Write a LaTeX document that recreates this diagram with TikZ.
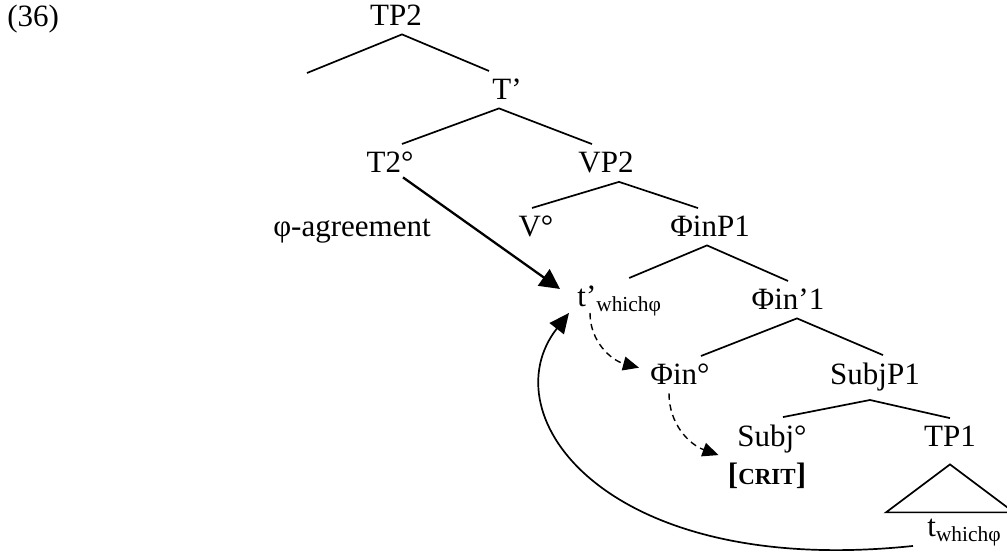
\documentclass[tikz,border=0pt]{standalone}
\usepackage{fontspec}
\setmainfont{Liberation Serif}
\usepackage{tikz}
\usetikzlibrary{arrows.meta}

\newcommand{\whsub}[1]{\raisebox{-2.5pt}{\fontsize{10.7}{12}\selectfont #1}}

\begin{document}
\begin{tikzpicture}[x=0.5pt, y=-0.5pt,
  lbl/.style={anchor=base, inner sep=4pt, font=\fontsize{15.5}{18}\selectfont},
  branch/.style={line width=0.85pt},
  agr/.style={line width=1.15pt, -{Triangle[length=10pt,width=10pt]}},
  feat/.style={line width=0.7pt, dash pattern=on 3.2pt off 2.3pt,
    -{Triangle[length=8pt,width=7pt]}},
  move/.style={line width=0.85pt, -{Triangle[length=10pt,width=9pt]}}]
\clip (0,0) rectangle (1007,555);

% labels of the tree
\node (ex) [lbl, anchor=base west] at (-1,27) {(36)};
\node (TP2) [lbl] at (396,26) {TP2};
\coordinate (TP2-spec) at (307,73);
\node (Tbar) [lbl] at (507,100) {T’};
\node (T2) [lbl] at (390,173) {T2°};
\node (VP2) [lbl] at (606,173) {VP2};
\node (V) [lbl] at (536,237) {V°};
\node (PhiP1) [lbl] at (710,237) {ΦinP1};
\node (agree) [lbl] at (352,237) {φ-agreement};
\node (tprime) [lbl, anchor=base west] at (569,307) {t’\whsub{whichφ}};
\node (Phibar) [lbl] at (788,310) {Φin’1};
\node (Phi0) [lbl] at (680,385) {Φin°};
\node (SubjP1) [lbl] at (875,385) {SubjP1};
\node (Subj) [lbl] at (772,447) {Subj°};
\node (TP1) [lbl] at (950,447) {TP1};
\node (crit) [lbl] at (767,485) {\textbf{[{\fontsize{11.5}{13}\selectfont CRIT}]}};
\node (twh) [lbl, anchor=base west] at (919,537) {t\whsub{whichφ}};

% branches
\draw[branch] (TP2-spec) -- ([xshift=3pt]TP2.south) -- ([xshift=-9pt]Tbar.north);
\draw[branch] ([xshift=6pt]T2.north) -- ([xshift=-4pt]Tbar.south) -- ([xshift=-7pt]VP2.north);
\draw[branch] ([xshift=-2pt]V.north) -- ([xshift=6.5pt]VP2.south) -- ([xshift=-6pt]PhiP1.north);
\draw[branch] ([xshift=5pt]tprime.north) -- ([xshift=-1.5pt]PhiP1.south) -- (Phibar.north);
\draw[branch] ([xshift=10.5pt]Phi0.north) -- ([xshift=4.5pt]Phibar.south) -- ([xshift=4pt]SubjP1.north);
\draw[branch] ([xshift=5.5pt]Subj.north) -- ([xshift=-2.5pt]SubjP1.south) -- (TP1.north);
\draw[branch] ([yshift=-4.5pt]TP1.south) -- ++(-32pt,-24pt) -- ++(64pt,0pt) -- cycle;

% agreement and movement
\draw[agr] ([xshift=6.5pt,yshift=2pt]T2.south) -- ([xshift=-4.5pt,yshift=-5.5pt]tprime.north west);
\draw[feat] ([xshift=10.5pt,yshift=-3pt]tprime.base west) to[out=-90,in=165] ([xshift=-1.5pt,yshift=3.5pt]Phi0.west);
\draw[feat] ([xshift=-5.5pt]Phi0.south) to[out=-90,in=160] ([xshift=-0.5pt]crit.north west);
\draw[move] ([xshift=-3pt,yshift=4.5pt]twh.south west)
  to[out=186,in=232,out looseness=1.9,in looseness=0.8] ([yshift=6pt]tprime.south west);
\end{tikzpicture}
\end{document}
